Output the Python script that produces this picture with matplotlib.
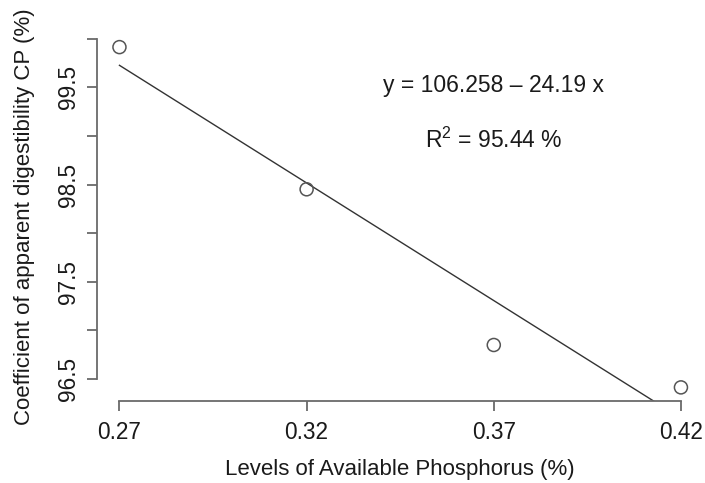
import numpy as np
import matplotlib
matplotlib.use("Agg")
import matplotlib.pyplot as plt

# data
phosphorus = [0.27, 0.32, 0.37, 0.42]
digestibility = [99.914, 98.452, 96.851, 96.415]
intercept = 106.258
slope = -24.19
r2 = 95.44

x_ticks = [0.27, 0.32, 0.37, 0.42]
y_ticks = [96.5, 97.0, 97.5, 98.0, 98.5, 99.0, 99.5, 100.0]
y_labels = ["96.5", "", "97.5", "", "98.5", "", "99.5", ""]

plt.rcParams['font.family'] = ['Liberation Sans', 'DejaVu Sans']
plt.rcParams['mathtext.default'] = 'regular'

W, H = 705, 483
fig = plt.figure(figsize=(W / 100, H / 100), dpi=100)
# plot region in pixels (R style: axes on the region edge)
left, right, top, bottom = 97, 703.4, 33.5, 401
ax = fig.add_axes([left / W, 1 - bottom / H, (right - left) / W, (bottom - top) / H])

# R-like 4% padding around data
xr = max(phosphorus) - min(phosphorus)
yr = max(digestibility) - min(digestibility)
ax.set_xlim(min(phosphorus) - 0.04 * xr, max(phosphorus) + 0.04 * xr)
ax.set_ylim(min(digestibility) - 0.04 * yr, max(digestibility) + 0.04 * yr)

axis_col = '#6a6a6a'
txt_col = '#1a1a1a'
fs = 16.0

ax.scatter(phosphorus, digestibility, s=88, facecolors='none',
           edgecolors='#555555', linewidths=1.1, zorder=3)

xs = np.linspace(0.27, 0.42, 200)
ax.plot(xs, intercept + slope * xs, color='#333333', lw=1.0)

ax.text(0.37, 99.52, "y = 106.258 \u2013 24.19 x", ha='center', va='center',
        fontsize=16.5, color=txt_col)
ax.text(0.37, 98.96, "R$^{2}$ = %.2f %%" % r2, ha='center', va='center',
        fontsize=16.5, color=txt_col)

for side in ['top', 'right']:
    ax.spines[side].set_visible(False)
for side in ['left', 'bottom']:
    ax.spines[side].set_color(axis_col)
    ax.spines[side].set_linewidth(1.3)
ax.spines['bottom'].set_bounds(0.27, 0.42)
ax.spines['left'].set_bounds(96.5, 100.0)

ax.set_xticks(x_ticks)
ax.set_xticklabels(["%.2f" % v for v in x_ticks])
ax.set_yticks(y_ticks)
ax.set_yticklabels(y_labels, rotation=90, va='center')
ax.tick_params(axis='both', length=7.5, width=1.3, color=axis_col,
               labelsize=16.3, labelcolor=txt_col)
ax.tick_params(axis='x', pad=7)
ax.tick_params(axis='y', pad=5)

fig.text(400 / W, 1 - 469 / H, "Levels of Available Phosphorus (%)",
         ha='center', va='center', fontsize=fs, color=txt_col)
fig.text(25 / W, 1 - 217 / H, "Coefficient of apparent digestibility CP (%)",
         ha='center', va='center', rotation=90, fontsize=fs, color=txt_col)

fig.savefig("out.png", dpi=100)
